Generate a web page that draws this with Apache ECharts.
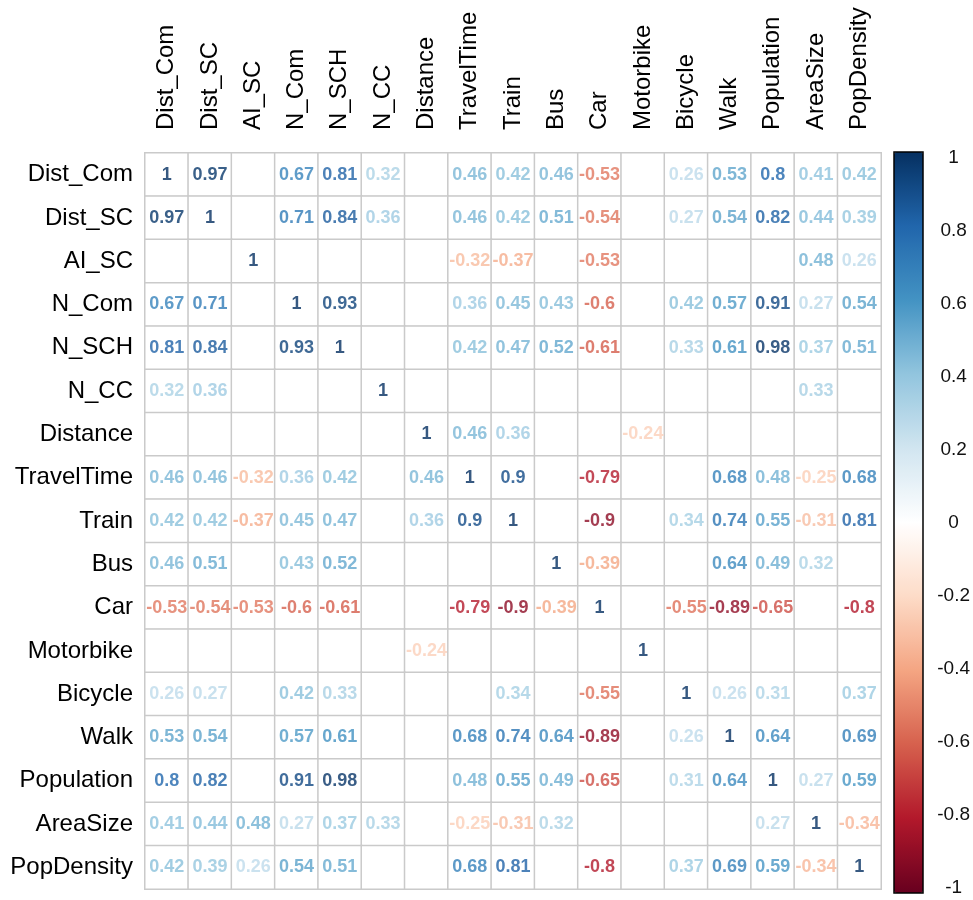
<!DOCTYPE html>
<html>
<head>
<meta charset="utf-8">
<script src="https://cdn.jsdelivr.net/npm/echarts@6/dist/echarts.min.js"></script>
<style>html,body{margin:0;padding:0;background:#fff;}#c{width:973px;height:900px;}</style>
</head>
<body>
<div id="c"></div>
<script>
const vars = ['Dist_Com','Dist_SC','AI_SC','N_Com','N_SCH','N_CC','Distance','TravelTime','Train','Bus','Car','Motorbike','Bicycle','Walk','Population','AreaSize','PopDensity'];
const _ = null;
const rDistCom    = [1, 0.97, _, 0.67, 0.81, 0.32, _, 0.46, 0.42, 0.46, -0.53, _, 0.26, 0.53, 0.8, 0.41, 0.42];
const rDistSC     = [0.97, 1, _, 0.71, 0.84, 0.36, _, 0.46, 0.42, 0.51, -0.54, _, 0.27, 0.54, 0.82, 0.44, 0.39];
const rAISC       = [_, _, 1, _, _, _, _, -0.32, -0.37, _, -0.53, _, _, _, _, 0.48, 0.26];
const rNCom       = [0.67, 0.71, _, 1, 0.93, _, _, 0.36, 0.45, 0.43, -0.6, _, 0.42, 0.57, 0.91, 0.27, 0.54];
const rNSCH       = [0.81, 0.84, _, 0.93, 1, _, _, 0.42, 0.47, 0.52, -0.61, _, 0.33, 0.61, 0.98, 0.37, 0.51];
const rNCC        = [0.32, 0.36, _, _, _, 1, _, _, _, _, _, _, _, _, _, 0.33, _];
const rDistance   = [_, _, _, _, _, _, 1, 0.46, 0.36, _, _, -0.24, _, _, _, _, _];
const rTravelTime = [0.46, 0.46, -0.32, 0.36, 0.42, _, 0.46, 1, 0.9, _, -0.79, _, _, 0.68, 0.48, -0.25, 0.68];
const rTrain      = [0.42, 0.42, -0.37, 0.45, 0.47, _, 0.36, 0.9, 1, _, -0.9, _, 0.34, 0.74, 0.55, -0.31, 0.81];
const rBus        = [0.46, 0.51, _, 0.43, 0.52, _, _, _, _, 1, -0.39, _, _, 0.64, 0.49, 0.32, _];
const rCar        = [-0.53, -0.54, -0.53, -0.6, -0.61, _, _, -0.79, -0.9, -0.39, 1, _, -0.55, -0.89, -0.65, _, -0.8];
const rMotorbike  = [_, _, _, _, _, _, -0.24, _, _, _, _, 1, _, _, _, _, _];
const rBicycle    = [0.26, 0.27, _, 0.42, 0.33, _, _, _, 0.34, _, -0.55, _, 1, 0.26, 0.31, _, 0.37];
const rWalk       = [0.53, 0.54, _, 0.57, 0.61, _, _, 0.68, 0.74, 0.64, -0.89, _, 0.26, 1, 0.64, _, 0.69];
const rPopulation = [0.8, 0.82, _, 0.91, 0.98, _, _, 0.48, 0.55, 0.49, -0.65, _, 0.31, 0.64, 1, 0.27, 0.59];
const rAreaSize   = [0.41, 0.44, 0.48, 0.27, 0.37, 0.33, _, -0.25, -0.31, 0.32, _, _, _, _, 0.27, 1, -0.34];
const rPopDensity = [0.42, 0.39, 0.26, 0.54, 0.51, _, _, 0.68, 0.81, _, -0.8, _, 0.37, 0.69, 0.59, -0.34, 1];
const matrix = [rDistCom, rDistSC, rAISC, rNCom, rNSCH, rNCC, rDistance, rTravelTime, rTrain, rBus, rCar, rMotorbike, rBicycle, rWalk, rPopulation, rAreaSize, rPopDensity];
const legendTicks = [-1, -0.8, -0.6, -0.4, -0.2, 0, 0.2, 0.4, 0.6, 0.8, 1];
const palette = ['#67001F','#B2182B','#D6604D','#F4A582','#FDDBC7','#FFFFFF','#D1E5F0','#92C5DE','#4393C3','#2166AC','#053061'];

const cells = [];
const nums = [];
matrix.forEach((row, r) => row.forEach((v, c) => {
  cells.push([c, r, 0]);
  if (v !== null) nums.push([c, r, v]);
}));

const FONT = 'Liberation Sans, Arial, sans-serif';
const chart = echarts.init(document.getElementById('c'), null, {renderer: 'canvas'});
chart.setOption({
  animation: false,
  backgroundColor: '#ffffff',
  grid: [
    {left: 145, top: 153, width: 736, height: 736, show: false},
    {left: 894, top: 152, width: 29, height: 741, show: true, borderColor: '#000', borderWidth: 1.5, backgroundColor: 'transparent', z: 10},
    {left: 894, top: 158, width: 29, height: 730, show: false}
  ],
  xAxis: [
    {type: 'category', gridIndex: 0, data: vars, position: 'top', boundaryGap: true,
     axisLine: {show: false}, axisTick: {show: false}, splitLine: {show: false},
     axisLabel: {rotate: -90, margin: 23, fontSize: 24, color: '#000', fontFamily: FONT, interval: 0}},
    {type: 'value', gridIndex: 1, show: false},
    {type: 'value', gridIndex: 2, show: false}
  ],
  yAxis: [
    {type: 'category', gridIndex: 0, data: vars, inverse: true, boundaryGap: true,
     axisLine: {show: false}, axisTick: {show: false}, splitLine: {show: false},
     axisLabel: {margin: 12, fontSize: 24, color: '#000', fontFamily: FONT, interval: 0}},
    {type: 'value', gridIndex: 1, show: false},
    {type: 'value', gridIndex: 2, position: 'right', min: -1, max: 1, interval: 0.2,
     axisLine: {show: false}, splitLine: {show: false},
     axisTick: {show: true, length: 5, lineStyle: {color: '#000', width: 1}},
     axisLabel: {margin: 32, align: 'center', fontSize: 19, color: '#111', fontFamily: FONT,
       customValues: legendTicks}}
  ],
  visualMap: {
    type: 'continuous', min: -1, max: 1, dimension: 2, seriesIndex: 1,
    orient: 'vertical', left: 894, top: 152, itemWidth: 29, itemHeight: 741,
    padding: 0, calculable: false, text: null, showLabel: false, hoverLink: false,
    inRange: {color: palette}
  },
  series: [
    {type: 'heatmap', xAxisIndex: 0, yAxisIndex: 0, data: cells, silent: true,
     itemStyle: {color: '#ffffff', borderColor: '#cacaca', borderWidth: 1.5},
     label: {show: false}, emphasis: {disabled: true}},
    {type: 'scatter', xAxisIndex: 0, yAxisIndex: 0, data: nums, symbolSize: 0, silent: true, z: 5,
     label: {show: true, position: 'inside', color: 'inherit', fontSize: 18, fontWeight: 'bold', fontFamily: FONT,
       formatter: p => String(p.value[2])}}
  ]
});
</script>
</body>
</html>
